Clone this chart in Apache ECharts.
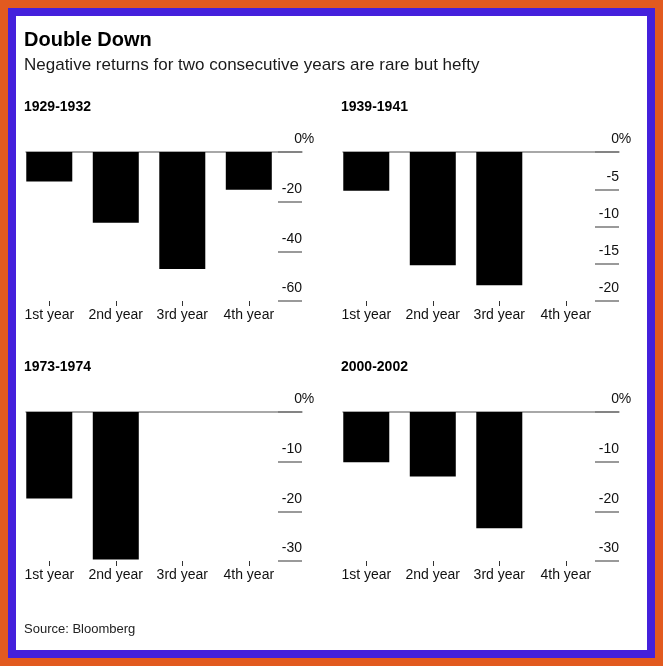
<!DOCTYPE html>
<html>
<head>
<meta charset="utf-8">
<script src="https://cdn.jsdelivr.net/npm/echarts@6/dist/echarts.min.js"></script>
<style>
html,body{margin:0;padding:0;background:#e25a1f;}
#wrap{position:absolute;left:0;top:0;width:663px;height:666px;box-sizing:border-box;border:8px solid #e25a1f;}
#inner{position:absolute;left:0;top:0;right:0;bottom:0;box-sizing:border-box;border:8px solid #4420dc;background:#fff;}
#chart{position:absolute;left:-16px;top:-16px;width:663px;height:666px;}
</style>
</head>
<body>
<div id="wrap"><div id="inner"><div id="chart"></div></div></div>
<script>
const title = "Double Down";
const subtitle = "Negative returns for two consecutive years are rare but hefty";
const source = "Source: Bloomberg";
const categories = ["1st year", "2nd year", "3rd year", "4th year"];
const periods = ["1929-1932", "1939-1941", "1973-1974", "2000-2002"];
const returns1929 = [-11.9, -28.5, -47.1, -15.2];
const returns1939 = [-5.2, -15.2, -17.9, null];
const returns1973 = [-17.4, -29.7, null, null];
const returns2000 = [-10.1, -13.0, -23.4, null];
const yMins = [-60, -20, -30, -30];
const yIntervals = [20, 5, 10, 10];

const allReturns = [returns1929, returns1939, returns1973, returns2000];
const FONT = "Liberation Sans, Arial, sans-serif";
const panelLeft = [26, 343, 26, 343];
const panelTop = [152, 152, 412, 412];
const titleTop = [100, 100, 360, 360];

const chart = echarts.init(document.getElementById('chart'));
const grids = [], xAxes = [], yAxes = [], series = [], titles = [];

titles.push({text: title, left: 24, top: 30, padding: 0, textStyle: {fontFamily: FONT, fontSize: 20, fontWeight: 'bold', color: '#000'}});
titles.push({text: subtitle, left: 24, top: 57, padding: 0, textStyle: {fontFamily: FONT, fontSize: 17, fontWeight: 'normal', color: '#1a1a1a'}});
titles.push({text: source, left: 24, top: 623, padding: 0, textStyle: {fontFamily: FONT, fontSize: 13, fontWeight: 'normal', color: '#222'}});

const catIdx = categories.map((c, i) => i);

allReturns.forEach((vals, p) => {
  titles.push({text: periods[p], left: panelLeft[p] - 2, top: titleTop[p], padding: 0, textStyle: {fontFamily: FONT, fontSize: 14, fontWeight: 'bold', color: '#000'}});
  grids.push({left: panelLeft[p], top: panelTop[p], width: 276, height: 149});
  // bottom category-like axis (value scale with ticks at category positions)
  xAxes.push({
    type: 'value', gridIndex: p, position: 'bottom', min: -0.35, max: 3.8,
    axisLine: {show: false, onZero: false},
    splitLine: {show: false},
    axisTick: {show: true, customValues: catIdx, length: 5, lineStyle: {color: '#333', width: 1}},
    axisLabel: {show: true, customValues: catIdx, margin: 7, formatter: v => categories[Math.round(v)] || '',
      fontFamily: FONT, fontSize: 14, color: '#111'}
  });
  // top axis: zero line
  xAxes.push({
    type: 'value', gridIndex: p, position: 'top', min: -0.35, max: 3.8,
    axisLine: {show: true, onZero: true, lineStyle: {color: '#8c8c8c', width: 1.5}},
    splitLine: {show: false}, axisTick: {show: false}, axisLabel: {show: false}
  });
  yAxes.push({
    type: 'value', gridIndex: p, position: 'right', min: yMins[p], max: 0, interval: yIntervals[p],
    axisLine: {show: false, onZero: false},
    splitLine: {show: false},
    axisTick: {show: true, inside: true, length: 24, lineStyle: {color: '#7a7a7a', width: 1.5}},
    axisLabel: {
      show: true, inside: true, margin: -12, verticalAlign: 'bottom', lineHeight: 25,
      formatter: v => v === 0 ? '{n|0}{p|%}' : '{n|' + v + '}{s| }',
      rich: {
        n: {fontFamily: FONT, fontSize: 14, color: '#111'},
        p: {fontFamily: FONT, fontSize: 14, color: '#111', width: 12, align: 'left'},
        s: {fontFamily: FONT, fontSize: 14, width: 12}
      }
    }
  });
  series.push({
    type: 'bar', xAxisIndex: p * 2, yAxisIndex: p, barWidth: 46,
    itemStyle: {color: '#000'}, silent: true,
    data: vals.map((v, i) => v === null ? null : [i, v])
  });
});

chart.setOption({
  animation: false,
  backgroundColor: 'transparent',
  title: titles,
  grid: grids,
  xAxis: xAxes,
  yAxis: yAxes,
  series: series
});
</script>
</body>
</html>
